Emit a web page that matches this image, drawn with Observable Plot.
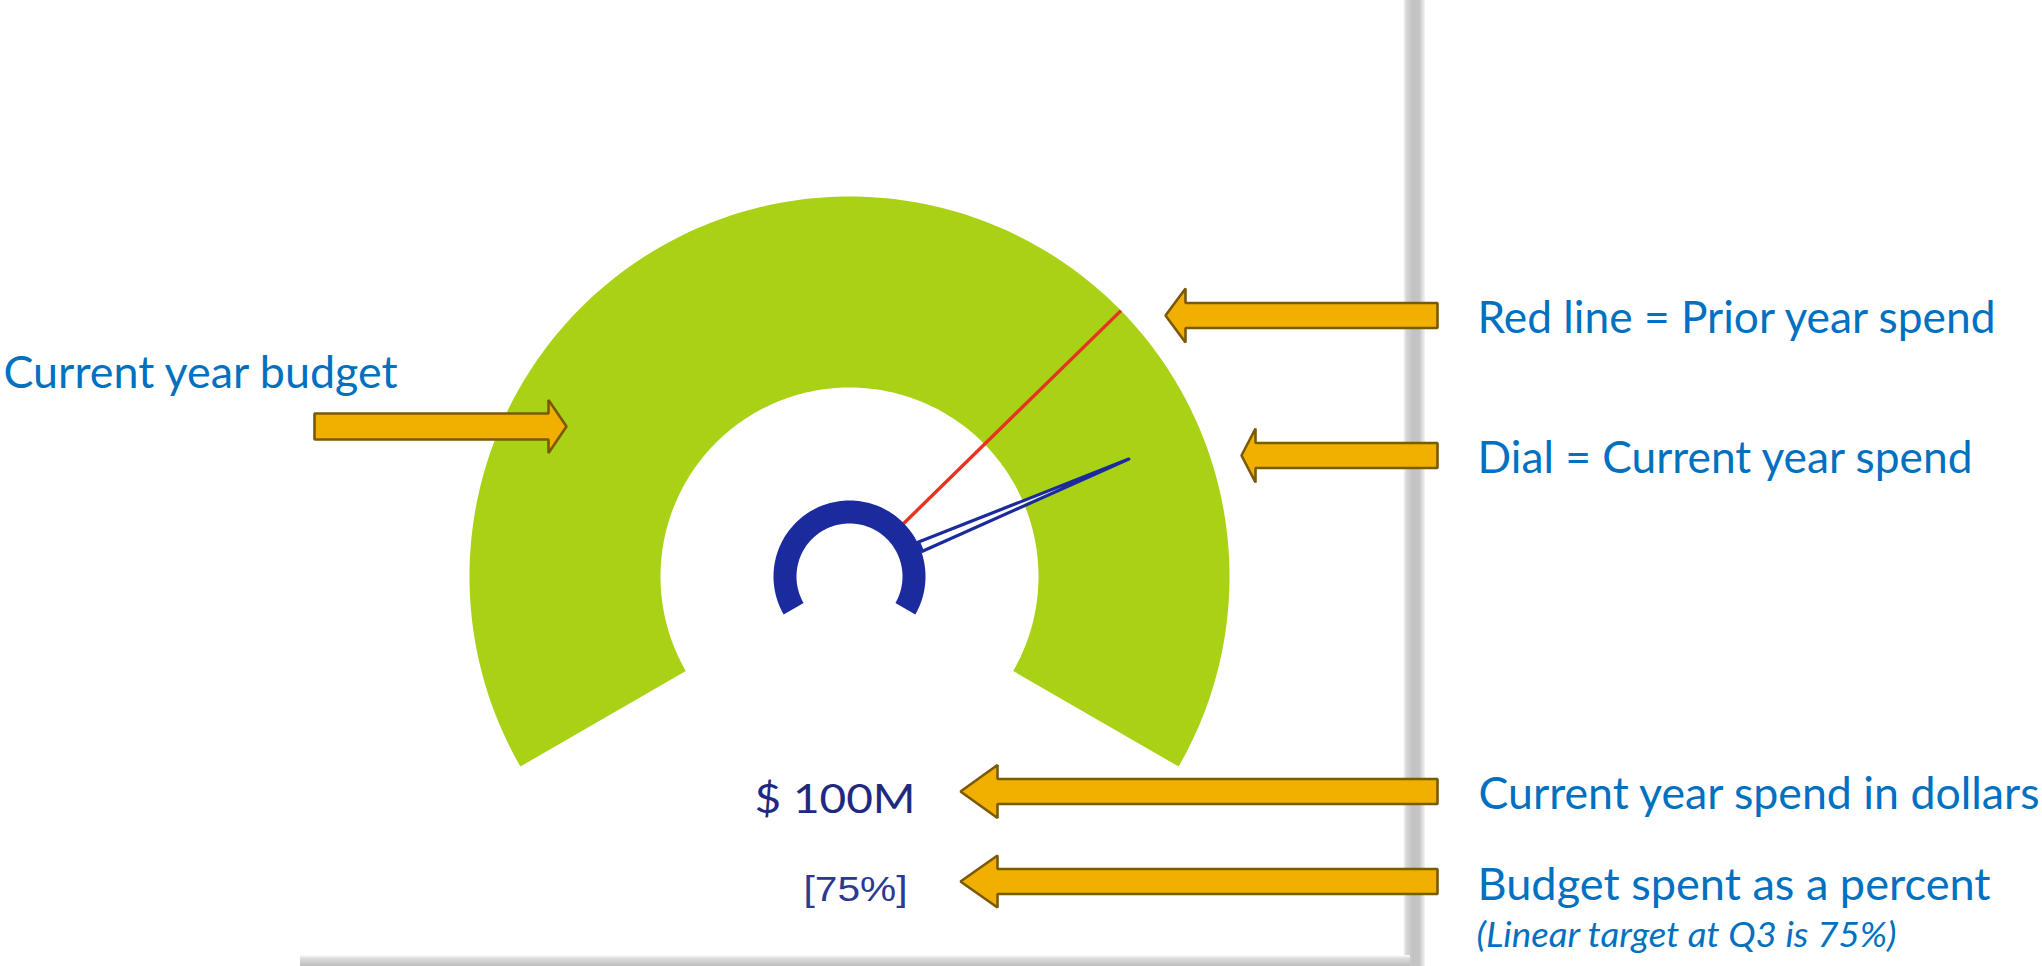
<!DOCTYPE html>
<html>
<head>
<meta charset="utf-8">
<script src="https://cdn.jsdelivr.net/npm/d3@7"></script>
<script src="https://cdn.jsdelivr.net/npm/@observablehq/plot@0.6"></script>
<style>
  html, body { margin: 0; padding: 0; background: #ffffff; overflow: hidden; }
</style>
</head>
<body>
<div id="chart"></div>
<script>
// ---------------- data ----------------
const gaugeDomain = [0, 100];                 // % of current-year budget (full green band)
const priorYearSpendPct = [69];               // red line position
const currentYearSpendPct = [78];             // dial / needle position
const spendDollarsLabel = ["$ 100M"];
const spendPercentLabel = ["[75%]"];
const calloutLabels = [
  "Current year budget",
  "Red line = Prior year spend",
  "Dial = Current year spend",
  "Current year spend in dollars",
  "Budget spent as a percent"
];
const footnoteLabel = ["(Linear target at Q3 is 75%)"];

// ---------------- layout ----------------
const W = 2042, H = 966;
const G = { cx: 849, cy: 576, rOuter: 380, rInner: 189, ringOuter: 76, ringInner: 53,
            needleBase: 77, needleTip: 303, needleHalf: 5, sweep: [-120, 120] };
const colors = { green: "#A9D115", red: "#E63420", navy: "#1B2B9E", blue: "#0070C0",
                 arrowFill: "#F1B000", arrowStroke: "#7A5A08", dollars: "#1E2A80", pct: "#2B3990" };

const angle = d3.scaleLinear(gaugeDomain, G.sweep);
const rad = d => d * Math.PI / 180;
const polar = (r, deg) => ({ x: G.cx + r * Math.sin(rad(deg)), y: G.cy - r * Math.cos(rad(deg)) });

function band(r0, r1) {
  const steps = d3.range(0, 241).map(i => gaugeDomain[0] + (gaugeDomain[1] - gaugeDomain[0]) * i / 240);
  const outer = steps.map(v => polar(r1, angle(v)));
  const inner = steps.slice().reverse().map(v => polar(r0, angle(v)));
  return outer.concat(inner);
}

function needle(v) {
  const a = angle(v);
  const base = polar(G.needleBase, a), tip = polar(G.needleTip, a);
  const px = Math.cos(rad(a)), py = Math.sin(rad(a)); // perpendicular unit vector
  return [
    { x: base.x - px * G.needleHalf, y: base.y - py * G.needleHalf },
    tip,
    { x: base.x + px * G.needleHalf, y: base.y + py * G.needleHalf }
  ];
}

// block arrows
function blockArrow(a) {
  const { tip, tail, head, cy, sh, hh } = a;
  const dir = tip > tail ? 1 : -1;
  const neck = tip - dir * head;
  return [
    { x: tail, y: cy - sh }, { x: neck, y: cy - sh }, { x: neck, y: cy - hh },
    { x: tip, y: cy }, { x: neck, y: cy + hh }, { x: neck, y: cy + sh }, { x: tail, y: cy + sh }
  ].map(p => ({ ...p, id: a.id }));
}
const arrowLayout = [
  { id: "budget",  tip: 566,  tail: 314,  head: 18, cy: 426, sh: 13,   hh: 26.5 },
  { id: "prior",   tip: 1165, tail: 1437, head: 20, cy: 315, sh: 12.5, hh: 27 },
  { id: "dial",    tip: 1241, tail: 1437, head: 14, cy: 455, sh: 12.5, hh: 27 },
  { id: "dollars", tip: 960,  tail: 1437, head: 37, cy: 791, sh: 12.5, hh: 26.5 },
  { id: "percent", tip: 960,  tail: 1437, head: 37, cy: 881, sh: 12.5, hh: 26 }
];
const arrowPts = arrowLayout.flatMap(blockArrow);

// text: font size from cap height, exact width via textLength
const mainFont = "Lato, 'Open Sans', sans-serif";
const calloutPos = [
  { x: 3,    y: 387, w: 394, size: 45 },
  { x: 1477, y: 332, w: 518, size: 44 },
  { x: 1477, y: 472, w: 495, size: 44 },
  { x: 1478, y: 808, w: 561, size: 44 },
  { x: 1477, y: 899, w: 513, size: 44 }
];
const callouts = calloutLabels.map((label, i) => ({ label, ...calloutPos[i] }));
const widthOf = new Map(callouts.map(d => [d.label, d.w]));
widthOf.set(footnoteLabel[0], 420);
widthOf.set(spendDollarsLabel[0], 161);
widthOf.set(spendPercentLabel[0], 104);

const textMark = (d, opts) => Plot.text([d], {
  x: "x", y: "y", text: "label", textAnchor: "start", lineAnchor: "bottom", ...opts
});

const marks = [
  // card shadows
  Plot.rect([{ x1: 1403, x2: 1425, y1: 0, y2: H }], { x1: "x1", x2: "x2", y1: "y1", y2: "y2", fill: "url(#shV)" }),
  Plot.rect([{ x1: 300, x2: 1410, y1: 955, y2: H }], { x1: "x1", x2: "x2", y1: "y1", y2: "y2", fill: "url(#shH)" }),
  // green budget band
  Plot.line(band(G.rInner, G.rOuter), { x: "x", y: "y", fill: colors.green, stroke: "none", curve: "linear-closed" }),
  // prior-year red line
  Plot.link(priorYearSpendPct, {
    x1: v => polar(G.ringOuter - 2, angle(v)).x, y1: v => polar(G.ringOuter - 2, angle(v)).y,
    x2: v => polar(G.rOuter, angle(v)).x, y2: v => polar(G.rOuter, angle(v)).y,
    stroke: colors.red, strokeWidth: 3.4
  }),
  // needle (current-year spend)
  Plot.line(currentYearSpendPct.flatMap(needle), { x: "x", y: "y", fill: "white", fillOpacity: 0.8,
    stroke: colors.navy, strokeWidth: 3.2, strokeLinejoin: "round", curve: "linear-closed" }),
  // hub ring
  Plot.line(band(G.ringInner, G.ringOuter), { x: "x", y: "y", fill: colors.navy, stroke: "none", curve: "linear-closed" }),
  // arrows
  Plot.line(arrowPts, { x: "x", y: "y", z: "id", fill: colors.arrowFill, stroke: colors.arrowStroke,
    strokeWidth: 2.6, strokeLinejoin: "miter", curve: "linear-closed" }),
  // callout texts
  ...callouts.map(d => textMark(d, { fill: colors.blue, fontSize: d.size, fontFamily: mainFont })),
  textMark({ label: footnoteLabel[0], x: 1476, y: 946 }, {
    fill: colors.blue, fontStyle: "italic", fontFamily: mainFont, fontSize: 34
  }),
  // gauge value labels
  textMark({ label: spendDollarsLabel[0], x: 754, y: 812 }, {
    fill: colors.dollars, fontFamily: mainFont, fontSize: 41
  }),
  textMark({ label: spendPercentLabel[0], x: 803, y: 900 }, {
    fill: colors.pct, fontFamily: "'Liberation Sans', Arial, sans-serif", fontSize: 35
  })
];

const svg = Plot.plot({
  width: W, height: H, margin: 0,
  x: { domain: [0, W], range: [0, W], axis: null },
  y: { domain: [0, H], range: [0, H], axis: null },
  style: { background: "#ffffff", overflow: "visible" },
  marks
});

// exact text widths as measured on the reference
d3.select(svg).selectAll("text").each(function () {
  const w = widthOf.get(this.textContent);
  if (w) d3.select(this).attr("textLength", w).attr("lengthAdjust", "spacingAndGlyphs");
});

// gradients for the card shadow
const defs = d3.select(svg).insert("defs", ":first-child");
const gv = defs.append("linearGradient").attr("id", "shV").attr("x1", 0).attr("x2", 1).attr("y1", 0).attr("y2", 0);
[[0, "#ffffff"], [0.15, "#d6d6d6"], [0.45, "#c2c2c2"], [0.75, "#c6c6c6"], [1, "#f4f4f4"]]
  .forEach(([o, c]) => gv.append("stop").attr("offset", o).attr("stop-color", c));
const gh = defs.append("linearGradient").attr("id", "shH").attr("x1", 0).attr("x2", 0).attr("y1", 0).attr("y2", 1);
[[0, "#ffffff"], [0.3, "#dcdcdc"], [1, "#bdbdbd"]]
  .forEach(([o, c]) => gh.append("stop").attr("offset", o).attr("stop-color", c));

document.getElementById("chart").appendChild(svg);
</script>
</body>
</html>
